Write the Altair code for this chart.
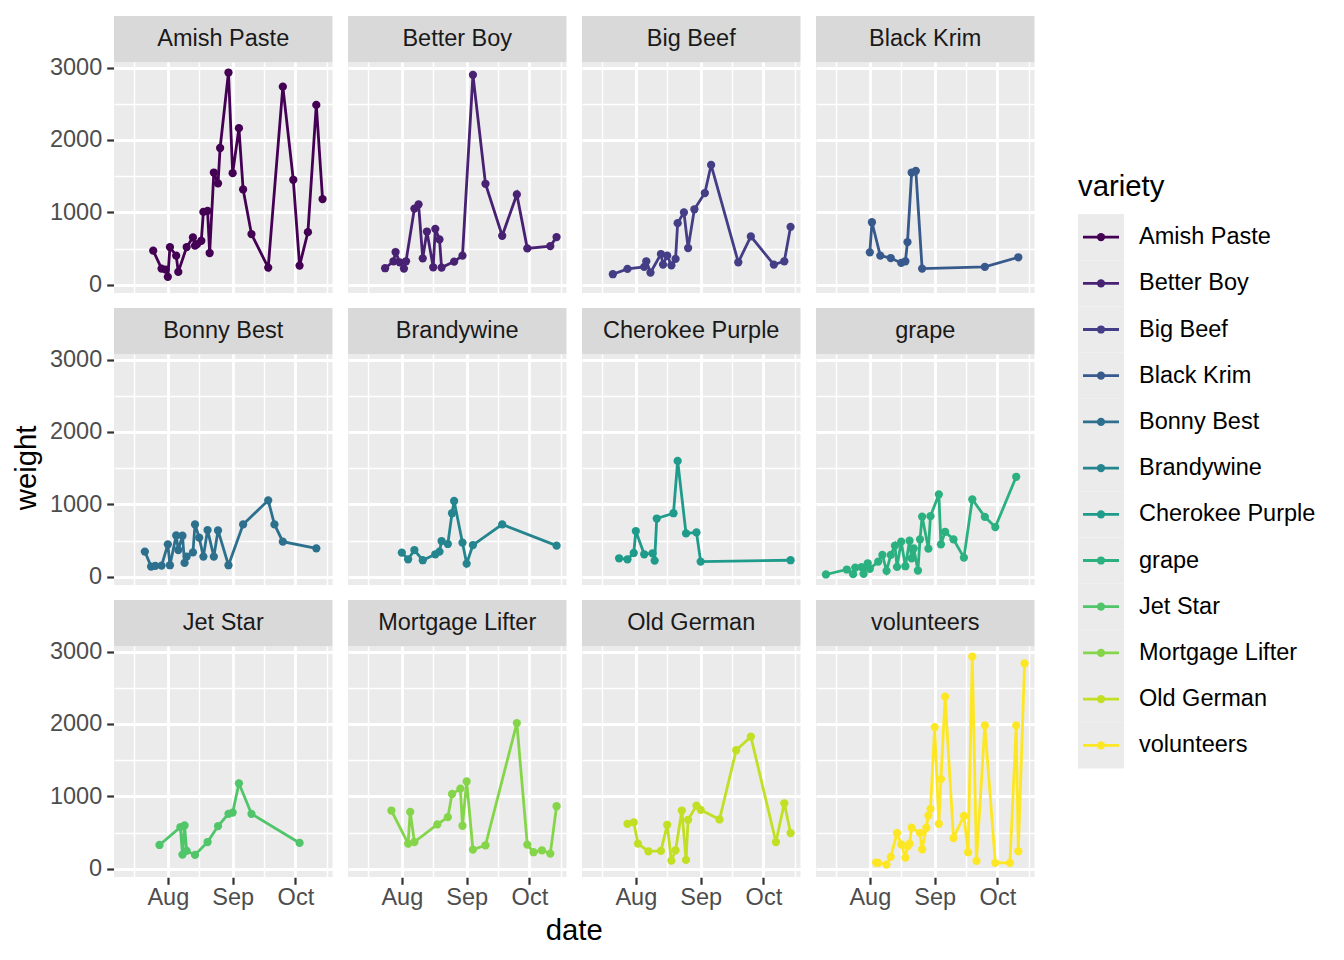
import altair as alt
import pandas as pd

FONT = "Liberation Sans"

varieties = ["Amish Paste", "Better Boy", "Big Beef", "Black Krim", "Bonny Best",
             "Brandywine", "Cherokee Purple", "grape", "Jet Star", "Mortgage Lifter",
             "Old German", "volunteers"]
colors = ["#440154", "#482173", "#433E85", "#38598C", "#2D708E", "#25858E",
          "#1E9B8A", "#2BB07F", "#51C56A", "#85D54A", "#C2DF23", "#FDE725"]

amish_dates = ["07-25", "07-29", "07-31", "08-01", "08-02", "08-05", "08-06", "08-10", "08-13", "08-14",
               "08-15", "08-17", "08-18", "08-20", "08-21", "08-23", "08-25", "08-26", "08-30", "09-01",
               "09-04", "09-06", "09-10", "09-18", "09-25", "09-30", "10-03", "10-07", "10-11", "10-14"]
amish_weights = [471, 224, 210, 110, 521, 402, 178, 521, 654, 540,
                 562, 608, 1006, 1020, 439, 1550, 1400, 1889, 2931, 1541,
                 2163, 1317, 700, 238, 2735, 1450, 265, 727, 2483, 1184]

betterboy_dates = ["07-24", "07-28", "07-29", "07-31", "08-02", "08-03", "08-07", "08-09", "08-11", "08-13",
                   "08-16", "08-17", "08-19", "08-20", "08-26", "08-30", "09-04", "09-10", "09-18", "09-25",
                   "09-30", "10-11", "10-14"]
betterboy_weights = [229, 325, 453, 311, 224, 325, 1052, 1111, 366, 736,
                     242, 773, 627, 238, 320, 402, 2899, 1395, 677, 1248,
                     503, 535, 659]

bigbeef_dates = ["07-21", "07-28", "08-05", "08-06", "08-08", "08-13", "08-14", "08-16", "08-18", "08-20",
                 "08-21", "08-24", "08-26", "08-29", "09-03", "09-06", "09-19", "09-25", "10-06", "10-11",
                 "10-14"]
bigbeef_weights = [146, 220, 247, 325, 169, 425, 279, 402, 270, 357,
                   851, 1001, 508, 1043, 1267, 1655, 311, 668, 279, 325,
                   800]

blackkrim_dates = ["08-01", "08-02", "08-06", "08-11", "08-16", "08-18", "08-19", "08-21", "08-23", "08-26",
                   "09-25", "10-11"]
blackkrim_weights = [448, 864, 402, 370, 302, 325, 590, 1550, 1573, 224,
                     247, 380]

bonny_dates = ["07-21", "07-24", "07-26", "07-29", "08-01", "08-02", "08-05", "08-06", "08-08", "08-09",
               "08-10", "08-13", "08-14", "08-16", "08-18", "08-20", "08-23", "08-25", "08-30", "09-06",
               "09-18", "09-21", "09-25", "10-11"]
bonny_weights = [348, 142, 151, 155, 448, 160, 572, 370, 567, 192,
                 279, 338, 723, 540, 279, 645, 279, 640, 160, 723,
                 1056, 723, 485, 393]

brandy_dates = ["08-01", "08-04", "08-07", "08-11", "08-17", "08-19", "08-20", "08-23", "08-25", "08-26",
                "08-30", "09-01", "09-04", "09-18", "10-14"]
brandy_weights = [334, 242, 370, 229, 311, 348, 494, 453, 878, 1047,
                  471, 183, 439, 723, 430]

cherokee_dates = ["07-24", "07-28", "07-31", "08-01", "08-05", "08-09", "08-10", "08-11", "08-19", "08-21",
                  "08-25", "08-30", "09-01", "10-14"]
cherokee_weights = [256, 242, 329, 631, 311, 325, 224, 805, 878, 1600,
                    599, 613, 210, 229]

grape_dates = ["07-11", "07-21", "07-24", "07-25", "07-28", "07-29", "07-31", "08-01", "08-05", "08-07",
               "08-09", "08-11", "08-13", "08-14", "08-16", "08-18", "08-20", "08-21", "08-22", "08-24",
               "08-25", "08-26", "08-29", "08-30", "09-03", "09-04", "09-06", "09-10", "09-15", "09-19",
               "09-25", "09-30", "10-10"]
grape_weights = [32, 101, 37, 128, 133, 41, 187, 110, 210, 302,
                 82, 302, 430, 137, 485, 146, 498, 256, 393, 87,
                 517, 832, 389, 837, 1139, 448, 622, 517, 265, 1070,
                 828, 686, 1381]

jetstar_dates = ["07-28", "08-07", "08-08", "08-09", "08-10", "08-14", "08-20", "08-25", "08-30", "09-01",
                 "09-04", "09-10", "10-03"]
jetstar_weights = [329, 576, 197, 599, 247, 192, 370, 590, 759, 777,
                   1180, 759, 357]

mortgage_dates = ["07-27", "08-04", "08-05", "08-07", "08-18", "08-23", "08-25", "08-29", "08-30", "09-01",
                  "09-04", "09-10", "09-25", "09-30", "10-03", "10-07", "10-11", "10-14"]
mortgage_weights = [805, 348, 787, 370, 613, 713, 1033, 1107, 594, 1207,
                    265, 325, 2012, 334, 229, 256, 210, 864]

oldgerman_dates = ["07-28", "07-31", "08-02", "08-07", "08-13", "08-16", "08-18", "08-20", "08-23", "08-25",
                   "08-26", "08-30", "09-01", "09-10", "09-18", "09-25", "10-07", "10-11", "10-14"]
oldgerman_weights = [622, 640, 348, 242, 247, 608, 114, 256, 805, 123,
                     677, 873, 814, 681, 1637, 1825, 370, 905, 494]

volunteers_dates = ["08-04", "08-05", "08-09", "08-11", "08-14", "08-16", "08-18", "08-19", "08-20", "08-21",
                    "08-25", "08-26", "08-28", "08-29", "08-30", "09-01", "09-03", "09-04", "09-06", "09-10",
                    "09-15", "09-17", "09-19", "09-21", "09-25", "09-30", "10-07", "10-10", "10-11", "10-14"]
volunteers_weights = [87, 82, 59, 165, 494, 338, 155, 311, 348, 567,
                      494, 270, 567, 736, 828, 1957, 622, 1239, 2378, 425,
                      732, 229, 2931, 110, 1980, 82, 82, 1980, 242, 2835]

series = {
    "Amish Paste": (amish_dates, amish_weights),
    "Better Boy": (betterboy_dates, betterboy_weights),
    "Big Beef": (bigbeef_dates, bigbeef_weights),
    "Black Krim": (blackkrim_dates, blackkrim_weights),
    "Bonny Best": (bonny_dates, bonny_weights),
    "Brandywine": (brandy_dates, brandy_weights),
    "Cherokee Purple": (cherokee_dates, cherokee_weights),
    "grape": (grape_dates, grape_weights),
    "Jet Star": (jetstar_dates, jetstar_weights),
    "Mortgage Lifter": (mortgage_dates, mortgage_weights),
    "Old German": (oldgerman_dates, oldgerman_weights),
    "volunteers": (volunteers_dates, volunteers_weights),
}

rows = []
for v, (ds, ws) in series.items():
    for d, w in zip(ds, ws):
        rows.append({"variety": v, "date": f"2020-{d}T00:00:00", "weight": w})
df = pd.DataFrame(rows)

W, H, STRIP = 218.5, 231, 46

major_x = "date(datum.value) == 1"
x_axis = alt.Axis(
    title=None,
    values=[alt.DateTime(year=2020, month=m, date=d)
            for m, d in [(7, 16), (8, 1), (8, 16), (9, 1), (9, 16), (10, 1), (10, 16)]],
    labelExpr=f"{major_x} ? timeFormat(datum.value, '%b') : ''",
    gridWidth={"condition": {"test": major_x, "value": 2.8}, "value": 1.4},
    tickOpacity={"condition": {"test": major_x, "value": 1}, "value": 0},
    labelOverlap=False, labelFlush=False, labelPadding=1,
)
major_y = "datum.value % 1000 == 0"
y_axis = alt.Axis(
    title=None,
    values=[0, 500, 1000, 1500, 2000, 2500, 3000],
    format="d",
    labelExpr=f"{major_y} ? datum.label : ''",
    gridWidth={"condition": {"test": major_y, "value": 2.8}, "value": 1.4},
    tickOpacity={"condition": {"test": major_y, "value": 1}, "value": 0},
    labelOverlap=False, labelFlush=False, labelPadding=5,
)

x = alt.X("date:T", axis=x_axis,
          scale=alt.Scale(domain=[alt.DateTime(year=2020, month=7, date=6, hours=6),
                                  alt.DateTime(year=2020, month=10, date=18, hours=18)], nice=False))
y = alt.Y("weight:Q", axis=y_axis, scale=alt.Scale(domain=[-113, 3076], nice=False, zero=False))
color = alt.Color("variety:N", scale=alt.Scale(domain=varieties, range=colors), legend=None)

base = alt.Chart(df)
strip_rect = base.mark_rect(color="#D9D9D9").encode(
    x=alt.value(0), x2=alt.value(W), y=alt.value(-STRIP), y2=alt.value(0),
    tooltip=alt.Tooltip("count()"))
strip_text = base.mark_text(font=FONT, fontSize=23.5, color="#1A1A1A", baseline="middle", align="center").encode(
    x=alt.value(W / 2), y=alt.value(-STRIP / 2), text=alt.Text("variety:N"),
    tooltip=alt.Tooltip("count()"))
lines = base.mark_line(strokeWidth=2.8).encode(x=x, y=y, color=color)
points = base.mark_circle(size=68, opacity=1).encode(x=x, y=y, color=color)

panel = alt.layer(strip_rect, strip_text, lines, points).properties(
    width=W, height=H, view=alt.ViewBackground(fill="#EBEBEB", stroke=None))

facet = panel.facet(
    facet=alt.Facet("variety:N", sort=varieties, title=None,
                    header=alt.Header(labels=False, labelExpr="''", labelFontSize=1,
                                      labelPadding=0, labelColor="transparent")),
    columns=4, spacing={"row": 14, "column": 15},
).properties(title=alt.TitleParams("weight", orient="left", anchor="middle", dx=-6,
                                   fontSize=29.3, font=FONT, fontWeight="normal", color="black", offset=7))

# manual legend
leg_df = pd.DataFrame({"variety": varieties})
KEY = 46.2
KEY_TOP = 152
ly_scale = alt.Scale(type="band", paddingInner=0, paddingOuter=0,
                     range=[KEY_TOP, KEY_TOP + KEY * len(varieties)])
ly = alt.Y("variety:N", sort=varieties, axis=None, scale=ly_scale)
lyc = alt.Y("variety:N", sort=varieties, axis=None, bandPosition=0.5)
lbase = alt.Chart(leg_df)
key_bg = lbase.mark_rect(color="#EBEBEB").encode(y=ly, x=alt.value(0), x2=alt.value(46))
key_line = lbase.mark_rule(strokeWidth=2.8).encode(y=lyc, x=alt.value(5), x2=alt.value(41), color=color)
key_pt = lbase.mark_circle(size=68, opacity=1).encode(y=lyc, x=alt.value(23), color=color)
key_txt = lbase.mark_text(font=FONT, fontSize=23.5, color="black", align="left", baseline="middle").encode(
    y=lyc, x=alt.value(61), text="variety:N")
title_df = pd.DataFrame({"t": ["variety"]})
leg_title = alt.Chart(title_df).mark_text(font=FONT, fontSize=29.3, color="black", align="left",
                                          baseline="middle").encode(x=alt.value(0), y=alt.value(125), text="t:N")
legend = alt.layer(key_bg, key_line, key_pt, key_txt, leg_title).properties(width=46, height=720)

chart = alt.hconcat(facet, legend, spacing=43).properties(
    title=alt.TitleParams("date", orient="bottom", anchor="middle", dx=-90,
                          fontSize=29.3, font=FONT, fontWeight="normal", color="black", offset=8),
    padding={"left": 5, "top": 7, "right": 5, "bottom": 5},
).configure_axis(
    labelFont=FONT, labelFontSize=23.5, labelColor="#4D4D4D",
    tickColor="#333333", tickSize=7.3, tickWidth=2.2,
    domain=False, gridColor="white",
).configure_header(
    labels=False, labelPadding=0, labelFontSize=1, labelColor="transparent", labelExpr="''",
).configure_view(stroke=None)

chart.save("out.html", embed_options={"renderer": "svg", "actions": False})
